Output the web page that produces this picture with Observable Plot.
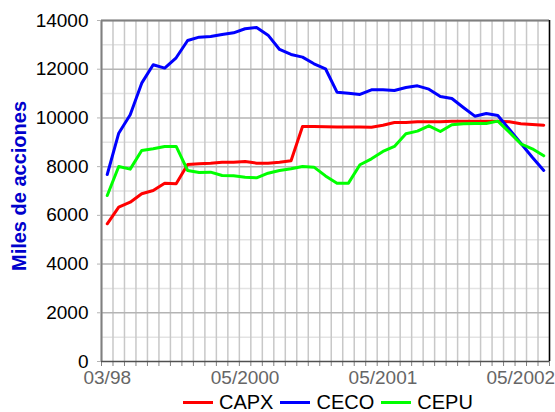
<!DOCTYPE html>
<html>
<head>
<meta charset="utf-8">
<script src="https://cdn.jsdelivr.net/npm/d3@7"></script>
<script src="https://cdn.jsdelivr.net/npm/@observablehq/plot@0.6"></script>
<style>
  html, body { margin: 0; padding: 0; background: #fff; }
  #wrap { position: relative; width: 555px; height: 412px; font-family: "Liberation Sans", Arial, sans-serif; }
  #legend { position: absolute; top: 391px; left: 183px; display: flex; align-items: center; font-size: 20px; color: #000; white-space: nowrap; }
  #legend .sw { display: inline-block; width: 30px; height: 3px; margin-right: 6px; }
  #legend .lab { margin-right: 7px; }
</style>
</head>
<body>
<div id="wrap"><div id="chart"></div><div id="legend"></div></div>
<script>
const categories = ["03/98","06/98","09/98","12/98","03/99","06/99","09/99","12/99","01/2000","02/2000","03/2000","04/2000",
  "05/2000","06/2000","07/2000","08/2000","09/2000","10/2000","11/2000","12/2000","01/2001","02/2001","03/2001","04/2001",
  "05/2001","06/2001","07/2001","08/2001","09/2001","10/2001","11/2001","12/2001","01/2002","02/2002","03/2002","04/2002",
  "05/2002","06/2002","07/2002"];
const capx = [5654, 6335, 6541, 6886, 7021, 7322, 7296, 8089, 8116, 8143, 8184, 8184, 8212, 8143, 8143, 8184, 8240, 9649, 9649, 9640,
  9630, 9630, 9625, 9620, 9700, 9813, 9813, 9840, 9840, 9840, 9868, 9868, 9868, 9868, 9868, 9840, 9760, 9731, 9703];
const ceco = [7678, 9374, 10130, 11428, 12183, 12046, 12470, 13180, 13317, 13345, 13427, 13495, 13660, 13714, 13399, 12811, 12606, 12495, 12224, 12018,
  11058, 11017, 10963, 11155, 11155, 11127, 11250, 11318, 11181, 10881, 10799, 10429, 10072, 10183, 10101, 9538, 8963, 8388, 7843];
const cepu = [6816, 8007, 7897, 8664, 8733, 8828, 8828, 7842, 7760, 7773, 7637, 7624, 7568, 7541, 7732, 7842, 7912, 8007, 7979, 7620,
  7322, 7322, 8076, 8322, 8623, 8828, 9349, 9457, 9677, 9444, 9718, 9759, 9773, 9773, 9868, 9417, 8937, 8733, 8445];
const seriesNames = ["CAPX", "CECO", "CEPU"];
const seriesColors = ["#ff0000", "#0000ff", "#00ff00"];
const labelTicks = ["03/98", "05/2000", "05/2001", "05/2002"];
const yTicks = [0, 2000, 4000, 6000, 8000, 10000, 12000, 14000];
const yMinor = [1000, 3000, 5000, 7000, 9000, 11000, 13000];

const seriesValues = [capx, ceco, cepu];
const rows = [];
seriesNames.forEach((s, k) => seriesValues[k].forEach((v, i) => rows.push({series: s, i, value: v})));
const n = categories.length;
const bounds = d3.range(n + 1).map(i => i - 0.5);
const labelIdx = labelTicks.map(t => categories.indexOf(t));
const yMax = yTicks[yTicks.length - 1];

const chart = Plot.plot({
  width: 555,
  height: 391,
  marginTop: 20,
  marginLeft: 101,
  marginRight: 6,
  marginBottom: 30,
  style: {fontFamily: "Liberation Sans, Arial, sans-serif", background: "#fff"},
  x: {type: "linear", domain: [-0.5, n - 0.5]},
  y: {domain: [0, yMax]},
  color: {domain: seriesNames, range: seriesColors},
  marks: [
    Plot.ruleY(yMinor, {stroke: "#e3e3e3", strokeWidth: 1.5}),
    Plot.ruleX(bounds, {y1: 0, y2: yMax, stroke: "#c8c8c8", strokeWidth: 1.5}),
    Plot.ruleY(yTicks.slice(1), {x1: -0.5, x2: n - 0.5, stroke: "#b4b4b4", strokeWidth: 1.5}),
    Plot.ruleY([yMax], {stroke: "#808080", strokeWidth: 2}),
    Plot.ruleX([n - 0.5], {y1: 0, y2: yMax, stroke: "#000", strokeWidth: 1.5}),
    Plot.ruleX([-0.5], {y1: 0, y2: yMax, stroke: "#808080", strokeWidth: 2}),
    Plot.axisY(yTicks, {tickSize: 4, tickPadding: 9, fontSize: 19, stroke: "#b4b4b4", fill: "#000", tickFormat: d => String(d), label: null}),
    Plot.axisX(bounds, {tickSize: 5, tickFormat: () => "", stroke: "#808080", label: null}),
    Plot.axisX(labelIdx, {tickSize: 0, tickPadding: 9, fontSize: 19, fill: "#666", tickFormat: i => categories[i], label: null}),
    Plot.ruleY([0], {x1: -0.5, x2: n - 0.5, stroke: "#505050", strokeWidth: 1.5}),
    Plot.line(rows, {x: "i", y: "value", stroke: "series", z: "series", strokeWidth: 3, strokeLinejoin: "round"}),
    Plot.text(["Miles de acciones"], {frameAnchor: "left", textAnchor: "middle", dx: -82, dy: -5, rotate: -90, fontSize: 20, fontWeight: "bold", fill: "#0000cc"})
  ]
});
document.getElementById("chart").appendChild(chart);

const legend = document.getElementById("legend");
seriesNames.forEach((s, k) => {
  const sw = document.createElement("span");
  sw.className = "sw";
  sw.style.background = seriesColors[k];
  const lab = document.createElement("span");
  lab.className = "lab";
  lab.textContent = s;
  legend.appendChild(sw);
  legend.appendChild(lab);
});
</script>
</body>
</html>
